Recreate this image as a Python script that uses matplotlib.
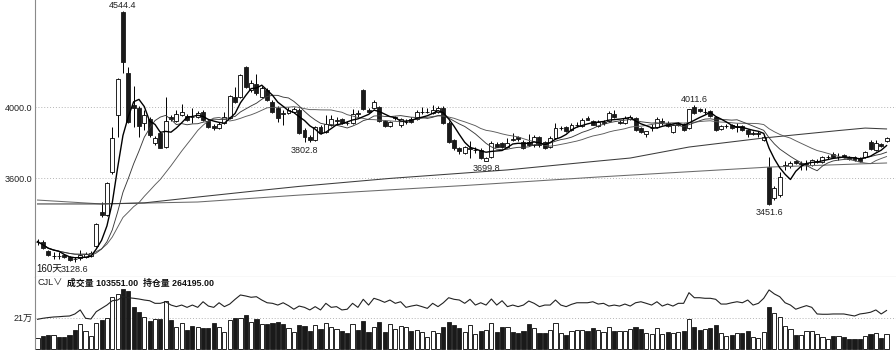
import numpy as np
import pandas as pd
import matplotlib
matplotlib.use("Agg")
import matplotlib.pyplot as plt

plt.rcParams['font.family'] = ['Liberation Sans', 'Noto Sans CJK SC', 'DejaVu Sans']

# ---------------- data ----------------
opens = [3241, 3241, 3191, 3162, 3163, 3168, 3157, 3146, 3151, 3157,
         3162, 3219, 3411, 3394, 3636, 3958, 4539, 4195, 4014, 3997,
         3913, 3935, 3800, 3856, 3777, 3946, 3924, 3958, 3952, 3946,
         3946, 3975, 3924, 3896, 3884, 3913, 3941, 4059, 4059, 4228,
         4099, 4133, 4059, 4099, 4031, 3997, 3969, 3969, 3975, 3986,
         3873, 3834, 3817, 3890, 3862, 3901, 3924, 3935, 3915, 3913,
         3969, 4099, 3986, 3997, 4003, 3924, 3896, 3941, 3901, 3918,
         3935, 3935, 3975, 3975, 3969, 3975, 3997, 3913, 3817, 3769,
         3743, 3766, 3760, 3760, 3701, 3721, 3794, 3797, 3777, 3825,
         3834, 3805, 3808, 3786, 3834, 3803, 3777, 3828, 3884, 3890,
         3873, 3901, 3896, 3941, 3924, 3898, 3915, 3924, 3966, 3915,
         3913, 3935, 3941, 3884, 3848, 3882, 3890, 3921, 3915, 3859,
         3904, 3907, 3884, 4003, 3989, 3972, 3980, 3946, 3879, 3893,
         3901, 3890, 3896, 3873, 3853, 3853, 3817, 3664, 3490, 3507,
         3670, 3670, 3698, 3684, 3684, 3676, 3695, 3693, 3718, 3738,
         3718, 3732, 3721, 3718, 3715, 3721, 3805, 3760, 3794, 3811]
highs = [3256, 3253, 3196, 3185, 3185, 3174, 3162, 3157, 3196, 3185,
         3191, 3349, 3467, 3580, 3890, 4166, 4544.4, 4228, 4121, 4008,
         3986, 3946, 3839, 3868, 4059, 3958, 3986, 4020, 3963, 3997,
         3980, 3986, 3935, 3907, 3918, 3975, 4070, 4116, 4189, 4234,
         4155, 4189, 4121, 4110, 4042, 4008, 3986, 4003, 4003, 3997,
         3884, 3845, 3896, 3901, 3958, 3958, 3946, 3941, 3924, 3991,
         3986, 4104, 3997, 4042, 4008, 3930, 3924, 3952, 3941, 3935,
         3946, 3986, 4003, 3997, 4014, 4008, 4008, 3924, 3822, 3777,
         3783, 3811, 3777, 3772, 3721, 3811, 3805, 3805, 3828, 3856,
         3839, 3817, 3850, 3845, 3839, 3811, 3839, 3913, 3896, 3896,
         3913, 3918, 3941, 3952, 3930, 3930, 3930, 3980, 3986, 3930,
         3952, 3958, 3946, 3890, 3868, 3907, 3946, 3941, 3924, 3907,
         3918, 3913, 3991, 4011.6, 3997, 3997, 3986, 3952, 3901, 3907,
         3907, 3913, 3901, 3879, 3868, 3868, 3845, 3721, 3557, 3636,
         3698, 3698, 3704, 3698, 3704, 3710, 3710, 3726, 3732, 3749,
         3743, 3738, 3726, 3726, 3721, 3755, 3817, 3817, 3800, 3834]
lows = [3226, 3202, 3162, 3146, 3146, 3151, 3134, 3128.6, 3138, 3151,
        3157, 3213, 3382, 3388, 3625, 3834, 4195, 3913, 3890, 3834,
        3873, 3834, 3789, 3770, 3772, 3924, 3918, 3952, 3924, 3913,
        3941, 3924, 3884, 3873, 3879, 3907, 3935, 4025, 4054, 4110,
        4087, 4070, 4054, 4037, 3969, 3918, 3901, 3963, 3969, 3850,
        3802.8, 3805, 3811, 3850, 3856, 3896, 3901, 3907, 3901, 3907,
        3946, 3986, 3969, 3991, 3918, 3890, 3890, 3930, 3890, 3907,
        3913, 3930, 3963, 3969, 3963, 3969, 3907, 3800, 3760, 3738,
        3738, 3715, 3743, 3710, 3699.8, 3715, 3777, 3772, 3772, 3811,
        3811, 3766, 3783, 3777, 3777, 3766, 3772, 3822, 3873, 3862,
        3868, 3890, 3890, 3930, 3901, 3890, 3901, 3918, 3941, 3907,
        3907, 3930, 3868, 3856, 3834, 3868, 3884, 3901, 3890, 3856,
        3896, 3868, 3879, 3963, 3975, 3963, 3946, 3868, 3873, 3884,
        3879, 3862, 3868, 3834, 3845, 3834, 3811, 3451.6, 3478, 3495,
        3647, 3659, 3681, 3647, 3647, 3670, 3687, 3687, 3710, 3715,
        3704, 3715, 3704, 3698, 3693, 3715, 3760, 3755, 3777, 3805]
closes = [3244, 3208, 3168, 3165, 3161, 3154, 3140, 3143, 3168, 3174,
          3179, 3343, 3391, 3574, 3828, 4161, 4257, 3918, 3997, 3896,
          3958, 3845, 3828, 3772, 3924, 3935, 3963, 3975, 3930, 3944,
          3969, 3930, 3890, 3884, 3907, 3946, 4065, 4031, 4183, 4116,
          4138, 4082, 4110, 4042, 3975, 3941, 3966, 3986, 3991, 3856,
          3834, 3817, 3890, 3856, 3907, 3935, 3927, 3913, 3910, 3963,
          3966, 3991, 3975, 4031, 3924, 3896, 3918, 3944, 3935, 3921,
          3918, 3975, 3977, 3977, 3986, 3997, 3913, 3805, 3772, 3752,
          3777, 3769, 3763, 3715, 3715, 3800, 3780, 3777, 3800, 3814,
          3820, 3772, 3789, 3834, 3786, 3774, 3828, 3884, 3887, 3868,
          3904, 3904, 3930, 3932, 3904, 3921, 3918, 3969, 3946, 3918,
          3941, 3946, 3873, 3862, 3865, 3884, 3935, 3924, 3893, 3901,
          3907, 3873, 3989, 3969, 3980, 3975, 3952, 3873, 3896, 3896,
          3884, 3893, 3873, 3851, 3856, 3856, 3834, 3456, 3546, 3608,
          3673, 3687, 3687, 3687, 3687, 3704, 3698, 3721, 3721, 3721,
          3721, 3721, 3710, 3704, 3698, 3749, 3766, 3800, 3783, 3828]
volume = [75000, 89000, 94000, 94000, 78000, 82000, 94000, 129000, 168000, 124000,
          89000, 175000, 198000, 210000, 356000, 377000, 412000, 400000, 291000, 252000,
          217000, 191000, 205000, 205000, 332000, 198000, 152000, 175000, 129000, 159000,
          152000, 145000, 145000, 175000, 152000, 117000, 198000, 210000, 214000, 231000,
          186000, 205000, 168000, 168000, 175000, 184000, 172000, 144000, 117000, 163000,
          159000, 124000, 161000, 136000, 175000, 152000, 133000, 122000, 106000, 168000,
          129000, 193000, 117000, 147000, 186000, 117000, 170000, 136000, 156000, 152000,
          124000, 129000, 113000, 78000, 120000, 106000, 149000, 186000, 165000, 140000,
          113000, 163000, 101000, 120000, 127000, 175000, 113000, 152000, 147000, 115000,
          108000, 124000, 172000, 140000, 106000, 106000, 127000, 175000, 106000, 92000,
          124000, 129000, 129000, 124000, 145000, 127000, 113000, 152000, 124000, 120000,
          124000, 133000, 152000, 136000, 106000, 101000, 145000, 101000, 115000, 108000,
          117000, 124000, 207000, 149000, 129000, 136000, 140000, 165000, 106000, 89000,
          92000, 110000, 106000, 122000, 78000, 73000, 117000, 291000, 245000, 221000,
          156000, 133000, 94000, 96000, 124000, 124000, 99000, 78000, 64000, 85000,
          85000, 82000, 64000, 64000, 68000, 87000, 99000, 106000, 75000, 103551]
open_interest = [203000, 210000, 215000, 219000, 221000, 224000, 226000, 240000, 268000, 210000,
                 205000, 256000, 279000, 302000, 332000, 337000, 360000, 353000, 349000, 344000,
                 337000, 332000, 314000, 314000, 325000, 302000, 291000, 302000, 286000, 302000,
                 286000, 325000, 295000, 286000, 318000, 291000, 309000, 342000, 372000, 365000,
                 356000, 360000, 337000, 318000, 314000, 302000, 318000, 298000, 273000, 295000,
                 286000, 268000, 291000, 268000, 314000, 286000, 291000, 268000, 273000, 314000,
                 286000, 342000, 302000, 349000, 337000, 321000, 337000, 314000, 325000, 286000,
                 295000, 302000, 291000, 279000, 314000, 291000, 318000, 353000, 342000, 337000,
                 314000, 342000, 302000, 318000, 302000, 344000, 302000, 332000, 291000, 302000,
                 291000, 302000, 330000, 314000, 291000, 302000, 302000, 337000, 302000, 291000,
                 307000, 318000, 318000, 318000, 325000, 309000, 314000, 295000, 302000, 295000,
                 309000, 295000, 318000, 325000, 314000, 302000, 325000, 295000, 309000, 295000,
                 314000, 314000, 388000, 353000, 353000, 349000, 349000, 342000, 309000, 309000,
                 318000, 325000, 318000, 337000, 302000, 314000, 349000, 407000, 379000, 360000,
                 318000, 302000, 273000, 286000, 298000, 286000, 240000, 238000, 238000, 240000,
                 240000, 240000, 233000, 226000, 240000, 245000, 252000, 268000, 240000, 264195]
# long moving averages at a few bars
long_ma1_idx = [0, 12, 20, 30, 40, 49, 66, 88, 105, 111, 122, 136, 150, 155, 159]
long_ma1_val = [3456, 3456, 3462, 3495, 3527, 3555, 3600, 3648, 3698, 3715, 3777, 3828, 3870, 3884, 3879]
long_ma2_idx = [0, 12, 30, 49, 80, 105, 137, 159]
long_ma2_val = [3478, 3456, 3467, 3506, 3560, 3608, 3664, 3687]

price_ticks = [3600.0, 4000.0]
volume_tick = 210000
volume_tick_label = "21万"
period_label = "160天"
marked = [(16, "high"), (7, "low"), (50, "low"), (84, "low"), (123, "high"), (137, "low")]

# ---------------- figure ----------------
W, H = 896, 350
SEP = 277
fig = plt.figure(figsize=(W / 100, H / 100), dpi=100)
left = 35 / W
ax = fig.add_axes([left, 1 - SEP / H, 1 - left, SEP / H])
axv = fig.add_axes([left, 0, 1 - left, (H - SEP) / H])

n = len(closes)
x = np.arange(n)
o = np.array(opens, float)
c = np.array(closes, float)
h = np.array(highs, float)
l = np.array(lows, float)
up = c >= o

# candles
ax.vlines(x, l, h, color='black', lw=0.7, zorder=2)
body_lo = np.minimum(o, c)
body_h = np.maximum(np.abs(c - o), 1.5)
ax.bar(x[up], body_h[up], bottom=body_lo[up], width=0.74,
       facecolor='white', edgecolor='black', lw=0.6, zorder=3)
ax.bar(x[~up], body_h[~up], bottom=body_lo[~up], width=0.74,
       facecolor='#1a1a1a', edgecolor='#1a1a1a', lw=0.6, zorder=3)

# moving averages
s = pd.Series(c)
ma5 = s.rolling(5, min_periods=1).mean()
ma10 = s.rolling(10, min_periods=1).mean()
ma20 = s.rolling(20, min_periods=1).mean()
ax.plot(long_ma2_idx, long_ma2_val, color='#6a6a6a', lw=0.75, zorder=4)
ax.plot(long_ma1_idx, long_ma1_val, color='#3c3c3c', lw=0.75, zorder=4)
ax.plot(x, ma20, color='#5a5a5a', lw=0.65, zorder=4)
ax.plot(x, ma10, color='#3a3a3a', lw=0.65, zorder=4)
ax.plot(x, ma5, color='black', lw=1.0, zorder=5)

xlim = (-0.47, 160.77)
for a in (ax, axv):
    a.set_xlim(*xlim)
    for sp in ['top', 'right', 'bottom']:
        a.spines[sp].set_visible(False)
    a.spines['left'].set_color('#8a8a8a')
    a.spines['left'].set_linewidth(0.8)
    a.set_xticks([])
    a.tick_params(axis='y', length=0, pad=2, labelsize=6.5, colors='#222222')
    a.set_facecolor('white')
ax.spines['bottom'].set_visible(True)
ax.spines['bottom'].set_color('#8a8a8a')
ax.spines['bottom'].set_linewidth(0.8)

ax.set_ylim(3044, 4606.3)
ax.set_yticks(price_ticks)
ax.set_yticklabels([f"{t:.1f}" for t in price_ticks])
for t in price_ticks:
    ax.axhline(t, color='#b5b5b5', lw=0.7, ls=(0, (1, 2)), zorder=0)

# extreme labels
for i, kind in marked:
    if kind == "high":
        ax.annotate(f"{h[i]:.1f}", (i, h[i]), xytext=(0, 1), textcoords='offset points',
                    ha='center', va='bottom', fontsize=6.5, color='#222222', zorder=6)
    else:
        ax.annotate(f"{l[i]:.1f}", (i, l[i]), xytext=(0, -2.5), textcoords='offset points',
                    ha='center', va='top', fontsize=6.5, color='#222222', zorder=6)

ax.text(0.002, (SEP - 269) / SEP, period_label, transform=ax.transAxes,
        ha='left', va='center', fontsize=7, color='#111111')

# volume panel
vol = np.array(volume, float)
oi = np.array(open_interest, float)
axv.bar(x[up], vol[up], width=0.78, facecolor='white', edgecolor='black', lw=0.6, zorder=2)
axv.bar(x[~up], vol[~up], width=0.78, facecolor='#1a1a1a', edgecolor='#1a1a1a', lw=0.6, zorder=2)
axv.plot(x, oi, color='#222222', lw=0.8, zorder=3)
axv.set_ylim(-10400, 497000)
axv.set_yticks([volume_tick])
axv.set_yticklabels([volume_tick_label])
axv.axhline(volume_tick, color='#b5b5b5', lw=0.7, ls=(0, (1, 2)), zorder=0)

ty = 1 - 283 / H
fig.text(37.5 / W, ty, "CJL∨", ha='left', va='center', fontsize=6.6, color='#222222')
fig.text(66.5 / W, ty, f"成交量 {vol[-1]:.2f}", ha='left', va='center', fontsize=6.4,
         color='#111111', fontweight='bold')
fig.text(143 / W, ty, f"持仓量 {oi[-1]:.2f}", ha='left', va='center', fontsize=6.4,
         color='#111111', fontweight='bold')

fig.savefig("out.png", dpi=100)
